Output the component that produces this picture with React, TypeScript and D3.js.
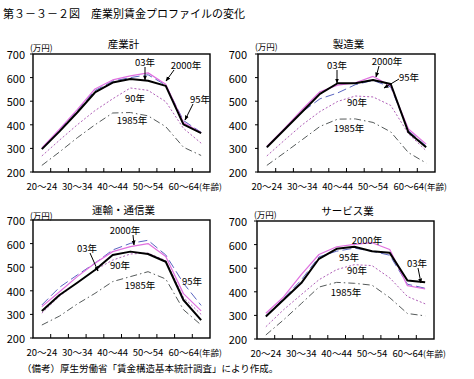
import React from "react";
import * as d3 from "d3";

const ages = ["20～24", "25～29", "30～34", "35～39", "40～44", "45～49", "50～54", "55～59", "60～64", "65～"];
const shownAgeIdx = [0, 2, 4, 6];
const lastAgeIdx = 8;
const yTicks = [200, 300, 400, 500, 600, 700];
const seriesNames = ["1985年", "90年", "95年", "2000年", "03年"];

// 産業計
const allY1985 = [228, 285, 345, 400, 450, 452, 438, 392, 305, 270];
const allY90 = [268, 335, 400, 460, 510, 556, 546, 498, 385, 322];
const allY95 = [300, 378, 460, 545, 585, 600, 612, 568, 418, 368];
const allY2000 = [302, 382, 464, 552, 590, 607, 620, 572, 410, 366];
const allY03 = [297, 372, 452, 537, 579, 594, 587, 565, 402, 365];

// 製造業
const mfgY1985 = [228, 282, 337, 393, 424, 425, 410, 370, 282, 238];
const mfgY90 = [268, 335, 400, 456, 499, 522, 518, 482, 362, 290];
const mfgY95 = [305, 380, 455, 510, 535, 570, 588, 560, 375, 310];
const mfgY2000 = [308, 385, 465, 540, 568, 578, 605, 565, 382, 318];
const mfgY03 = [305, 380, 455, 531, 576, 576, 590, 573, 368, 305];

// 運輸・通信業
const trnY1985 = [255, 293, 344, 389, 439, 460, 481, 450, 320, 255];
const trnY90 = [305, 378, 434, 488, 530, 556, 560, 528, 372, 300];
const trnY95 = [340, 415, 467, 517, 573, 601, 614, 552, 432, 338];
const trnY2000 = [333, 396, 460, 517, 566, 587, 600, 545, 388, 315];
const trnY03 = [314, 382, 434, 488, 552, 566, 556, 523, 361, 276];

// サービス業
const svcY1985 = [217, 281, 350, 420, 440, 436, 428, 375, 308, 298];
const svcY90 = [252, 324, 388, 451, 494, 515, 511, 459, 380, 349];
const svcY95 = [298, 372, 450, 548, 572, 585, 572, 555, 432, 415];
const svcY2000 = [309, 378, 473, 558, 591, 601, 608, 579, 426, 412];
const svcY03 = [295, 366, 437, 540, 582, 591, 572, 565, 448, 440];

const styles = [
  { color: "#555a5a", width: 1, dash: "7,3,1.5,3" },
  { color: "#b060b8", width: 1, dash: "2,2" },
  { color: "#5a64c0", width: 1, dash: "9,4" },
  { color: "#e070e0", width: 1.2, dash: "" },
  { color: "#000000", width: 2, dash: "" },
];

type Ann = { text: string; x: number; y: number; arrow?: [number, number, number, number] };

const panels = [
  {
    title: "産業計", ox: 33, oy: 54, labelGap: 8, unitY: -7,
    series: [allY1985, allY90, allY95, allY2000, allY03],
    anns: [
      { text: "03年", x: 112, y: 8, arrow: [112, 13, 112, 26] },
      { text: "2000年", x: 153, y: 11, arrow: [141, 16, 133, 27] },
      { text: "90年", x: 102, y: 44 },
      { text: "95年", x: 167, y: 45, arrow: [160, 50, 152, 66] },
      { text: "1985年", x: 99, y: 66 },
    ] as Ann[],
  },
  {
    title: "製造業", ox: 258, oy: 54, labelGap: 11, unitY: -8,
    series: [mfgY1985, mfgY90, mfgY95, mfgY2000, mfgY03],
    anns: [
      { text: "03年", x: 79, y: 11, arrow: [79, 16, 79, 29] },
      { text: "2000年", x: 129, y: 7, arrow: [121, 12, 118, 23] },
      { text: "95年", x: 151, y: 23, arrow: [141, 25, 126, 34] },
      { text: "90年", x: 99, y: 48 },
      { text: "1985年", x: 91, y: 74 },
    ] as Ann[],
  },
  {
    title: "運輸・通信業", ox: 33, oy: 220, labelGap: 8, unitY: -5,
    series: [trnY1985, trnY90, trnY95, trnY2000, trnY03],
    anns: [
      { text: "03年", x: 54, y: 28, arrow: [57, 33, 65, 51] },
      { text: "2000年", x: 92, y: 10, arrow: [100, 15, 101, 25] },
      { text: "90年", x: 87, y: 45 },
      { text: "1985年", x: 107, y: 65 },
      { text: "95年", x: 159, y: 61 },
    ] as Ann[],
  },
  {
    title: "サービス業", ox: 257, oy: 221, labelGap: 10, unitY: -7,
    series: [svcY1985, svcY90, svcY95, svcY2000, svcY03],
    anns: [
      { text: "2000年", x: 110, y: 19 },
      { text: "95年", x: 92, y: 36 },
      { text: "90年", x: 100, y: 49 },
      { text: "1985年", x: 89, y: 71 },
      { text: "03年", x: 160, y: 42, arrow: [161, 47, 164, 62] },
    ] as Ann[],
  },
];

const W = 177;
const H = 118;
const FONT = "'Noto Sans CJK JP', 'DejaVu Sans', sans-serif";

function Panel({ p }: { p: (typeof panels)[number] }) {
  const x = d3.scaleBand<string>().domain(ages).range([0, W]).padding(0);
  const y = d3.scaleLinear().domain([200, 700]).range([H, 0]);
  const cx = (i: number) => (x(ages[i]) as number) + x.bandwidth() / 2;
  const line = d3
    .line<number>()
    .x((_, i) => cx(i))
    .y((d) => y(d));
  return (
    <g transform={`translate(${p.ox},${p.oy})`}>
      <text x={W / 2 + 2} y={-11} textAnchor="middle" fontSize={10.5} fontFamily={FONT} dominantBaseline="central">
        {p.title}
      </text>
      <text x={-3} y={p.unitY} fontSize={8.5} fontFamily={FONT} dominantBaseline="central">
        (万円)
      </text>
      {yTicks.map((t) => (
        <g key={t}>
          <line x1={-3} x2={0} y1={y(t)} y2={y(t)} stroke="#000" strokeWidth={1} />
          <text x={-p.labelGap} y={y(t)} textAnchor="end" dominantBaseline="central" fontSize={11} fontFamily={FONT}>
            {t}
          </text>
        </g>
      ))}
      {ages.slice(1).map((a) => (
        <line key={a} x1={x(a)} x2={x(a)} y1={H} y2={H - 4} stroke="#000" strokeWidth={1} />
      ))}
      {shownAgeIdx.map((i) => (
        <text key={i} x={cx(i)} y={H + 14} textAnchor="middle" dominantBaseline="central" fontSize={9.5} fontFamily={FONT}>
          {ages[i]}
        </text>
      ))}
      <text x={cx(lastAgeIdx) - 15} y={H + 14} dominantBaseline="central" fontSize={9.5} fontFamily={FONT}>
        {ages[lastAgeIdx]}
        <tspan fontSize={8.5}>(年齢)</tspan>
      </text>
      {p.series.map((s, si) => (
        <path
          key={si}
          d={line(s) as string}
          fill="none"
          stroke={styles[si].color}
          strokeWidth={styles[si].width}
          strokeDasharray={styles[si].dash}
          strokeLinejoin="round"
        />
      ))}
      {p.anns.map((a, ai) => (
        <g key={ai}>
          <text x={a.x} y={a.y} textAnchor="middle" dominantBaseline="central" fontSize={9.5} fontFamily={FONT}>
            {a.text}
          </text>
          {a.arrow && (
            <line
              x1={a.arrow[0]}
              y1={a.arrow[1]}
              x2={a.arrow[2]}
              y2={a.arrow[3]}
              stroke="#000"
              strokeWidth={1}
              markerEnd={`url(#arrow)`}
            />
          )}
        </g>
      ))}
      <rect x={0} y={0} width={W} height={H} fill="none" stroke="#000" strokeWidth={1.4} />
    </g>
  );
}

export default function App() {
  return (
    <svg width={474} height={379} style={{ position: "absolute", left: 0, top: 0, background: "#fff" }}>
      <defs>
        <marker id="arrow" viewBox="0 0 10 10" refX="9" refY="5" markerWidth="5" markerHeight="5" orient="auto">
          <path d="M0,1 L10,5 L0,9 z" fill="#000" />
        </marker>
      </defs>
      <rect width={474} height={379} fill="#fff" />
      <text x={3} y={13} fontSize={11} fontFamily={FONT} dominantBaseline="central">
        第３－３－２図　産業別賃金プロファイルの変化
      </text>
      {panels.map((p, i) => (
        <Panel key={i} p={p} />
      ))}
      <text x={22} y={368} fontSize={9.5} fontFamily={FONT} dominantBaseline="central">
        （備考）厚生労働省「賃金構造基本統計調査」により作成。
      </text>
    </svg>
  );
}
